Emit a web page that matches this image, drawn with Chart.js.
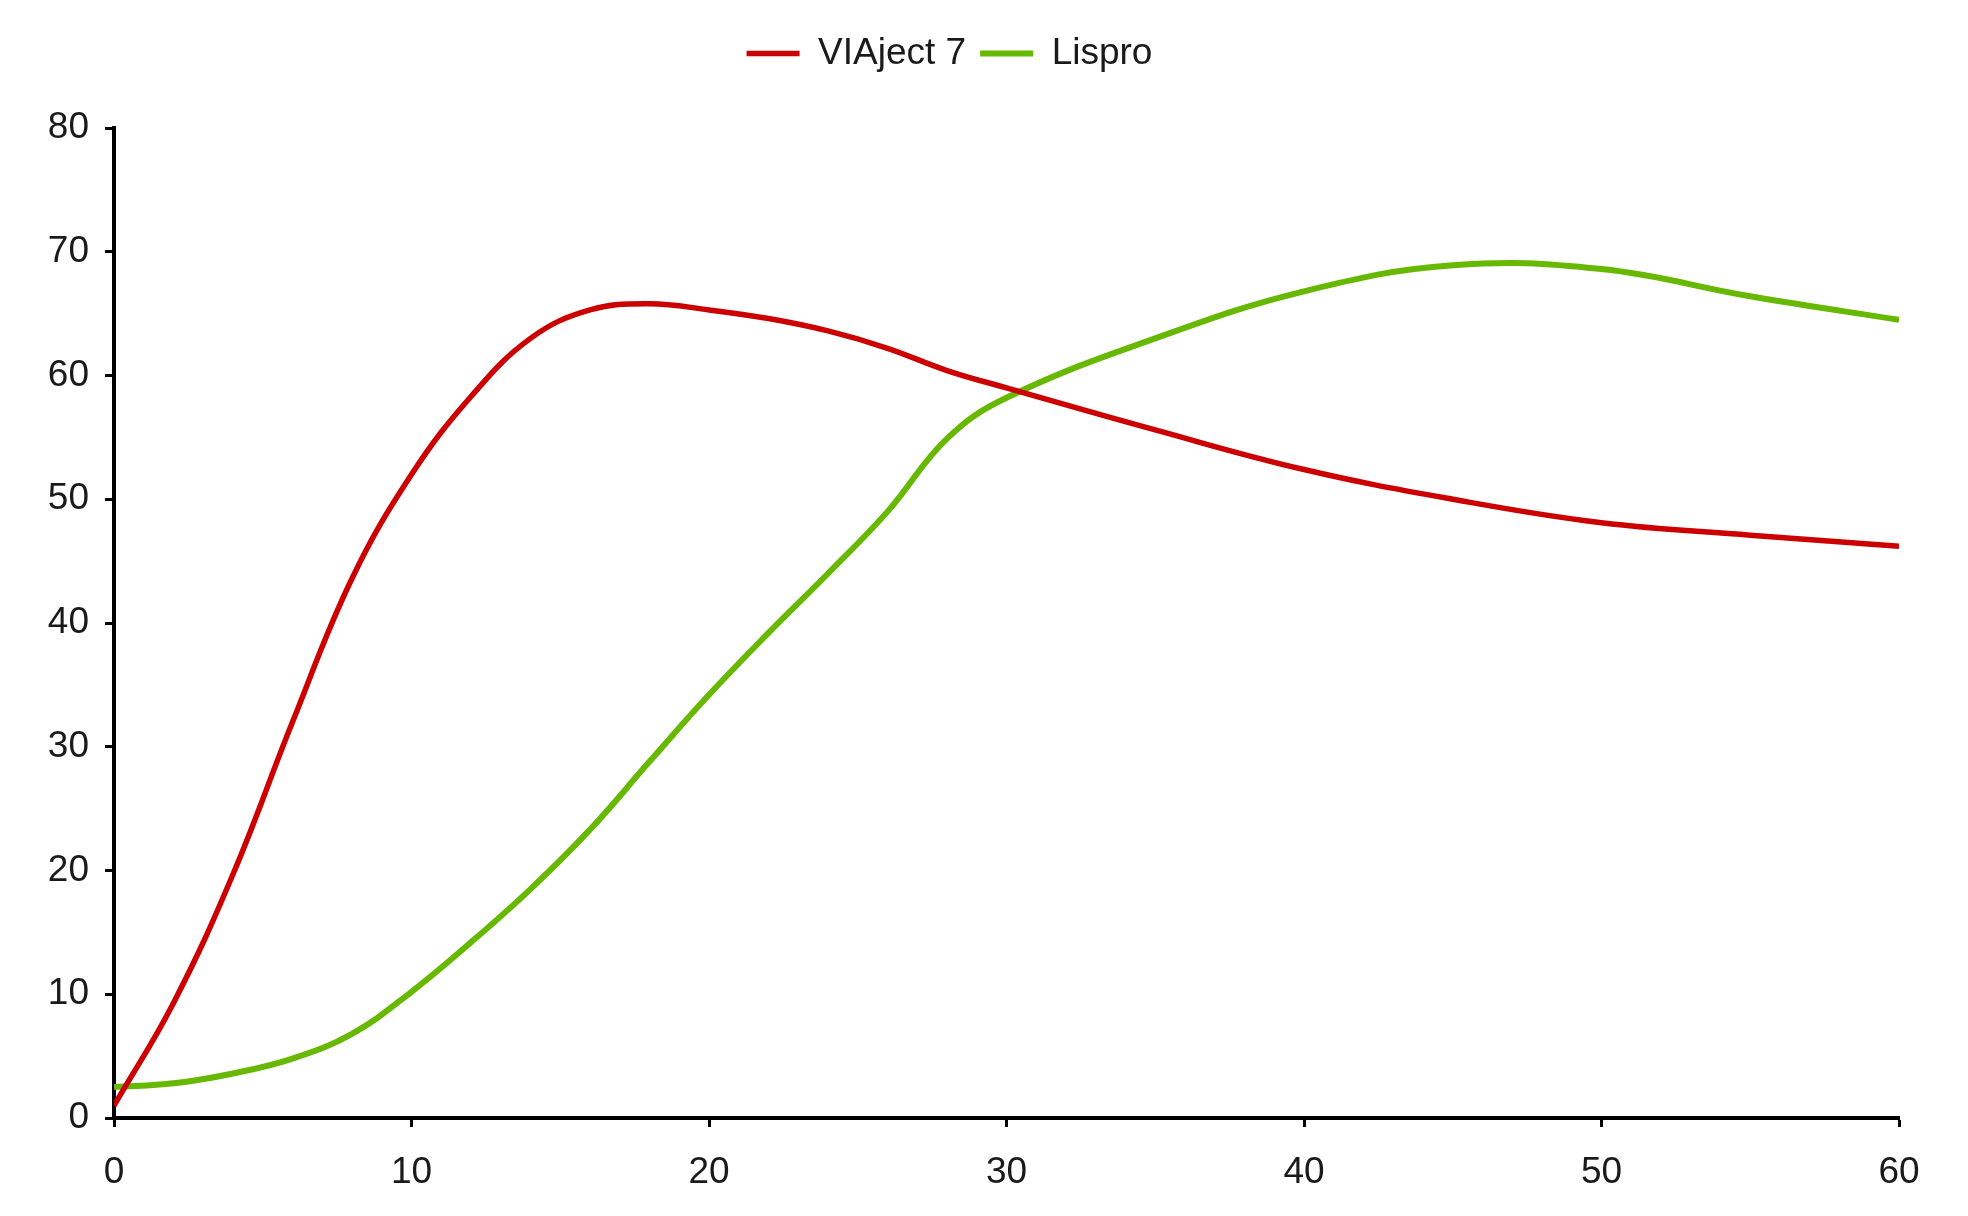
<!DOCTYPE html>
<html lang="en">
<head>
<meta charset="UTF-8" />
<title>VIAject 7 vs Lispro</title>
<script src="https://cdn.jsdelivr.net/npm/chart.js"></script>
<style>
  body {
    margin: 0;
    background: #fff;
  }
  #chart-container {
    width: 1968px;
    height: 1216px;
  }
</style>
</head>
<body>

<div id="chart-container">
  <canvas id="curveChart"></canvas>
</div>

<script>
  // time points (min) and values
  const times = [0, 2, 4, 6, 8, 10, 12, 14, 16, 18, 20, 22, 24, 26, 28, 30, 35, 40, 45, 50, 55, 60];
  const viaject = [1, 9.3, 19.7, 32, 43.6, 52, 58.3, 63, 65.3, 65.8, 65.3, 64.6, 63.6, 62.2, 60.4, 59, 55.6, 52.4, 50, 48.1, 47.1, 46.2];
  const lispro = [2.5, 2.8, 3.6, 4.8, 6.8, 10.2, 14.2, 18.5, 23.3, 28.8, 34.2, 39.2, 44, 49, 54.9, 58.2, 63, 66.8, 68.9, 68.6, 66.4, 64.5];
  const xTicks = [0, 10, 20, 30, 40, 50, 60];
  const yTicks = [0, 10, 20, 30, 40, 50, 60, 70, 80];

  const font = "'Liberation Sans', Arial, sans-serif";
  const textColor = '#1a1a1a';

  function toPoints(values) {
    return times.map((t, i) => ({ x: t, y: values[i] }));
  }

  // extra room under the legend so the plot starts lower
  const legendGap = {
    id: 'legendGap',
    beforeInit(chart) {
      const fit = chart.legend.fit;
      chart.legend.fit = function () {
        fit.bind(chart.legend)();
        this.height += 46;
      };
    }
  };

  const ctx = document.getElementById('curveChart').getContext('2d');

  new Chart(ctx, {
    type: 'line',
    data: {
      datasets: [
        {
          label: 'VIAject 7',
          data: toPoints(viaject),
          borderColor: '#cc0000',
          backgroundColor: '#cc0000',
          borderWidth: 5.5,
          pointRadius: 0,
          tension: 0.4,
          fill: false
        },
        {
          label: 'Lispro',
          data: toPoints(lispro),
          borderColor: '#66b800',
          backgroundColor: '#66b800',
          borderWidth: 6,
          pointRadius: 0,
          tension: 0.4,
          fill: false
        }
      ]
    },
    options: {
      responsive: true,
      maintainAspectRatio: false,
      animation: false,
      layout: {
        padding: { left: 0, right: 69, top: 21, bottom: 0 }
      },
      scales: {
        x: {
          type: 'linear',
          min: 0,
          max: 60,
          afterBuildTicks: scale => { scale.ticks = xTicks.map(v => ({ value: v })); },
          afterFit: scale => { scale.height = 98; },
          border: { color: '#000', width: 4 },
          grid: { drawOnChartArea: false, drawTicks: true, tickLength: 9, color: '#000', tickWidth: 3 },
          ticks: { color: textColor, font: { family: font, size: 37 }, padding: 24, maxRotation: 0 }
        },
        y: {
          min: 0,
          max: 80,
          afterBuildTicks: scale => { scale.ticks = yTicks.map(v => ({ value: v })); },
          afterFit: scale => { scale.width = 114; },
          border: { color: '#000', width: 4 },
          grid: { drawOnChartArea: false, drawTicks: true, tickLength: 9, color: '#000', tickWidth: 3 },
          ticks: { color: textColor, font: { family: font, size: 37 }, padding: 16 }
        }
      },
      plugins: {
        legend: {
          position: 'top',
          labels: {
            color: textColor,
            font: { family: font, size: 37 },
            usePointStyle: true,
            pointStyle: 'line',
            pointStyleWidth: 53,
            padding: 14
          }
        },
        tooltip: { enabled: false }
      }
    },
    plugins: [legendGap]
  });
</script>

</body>
</html>
